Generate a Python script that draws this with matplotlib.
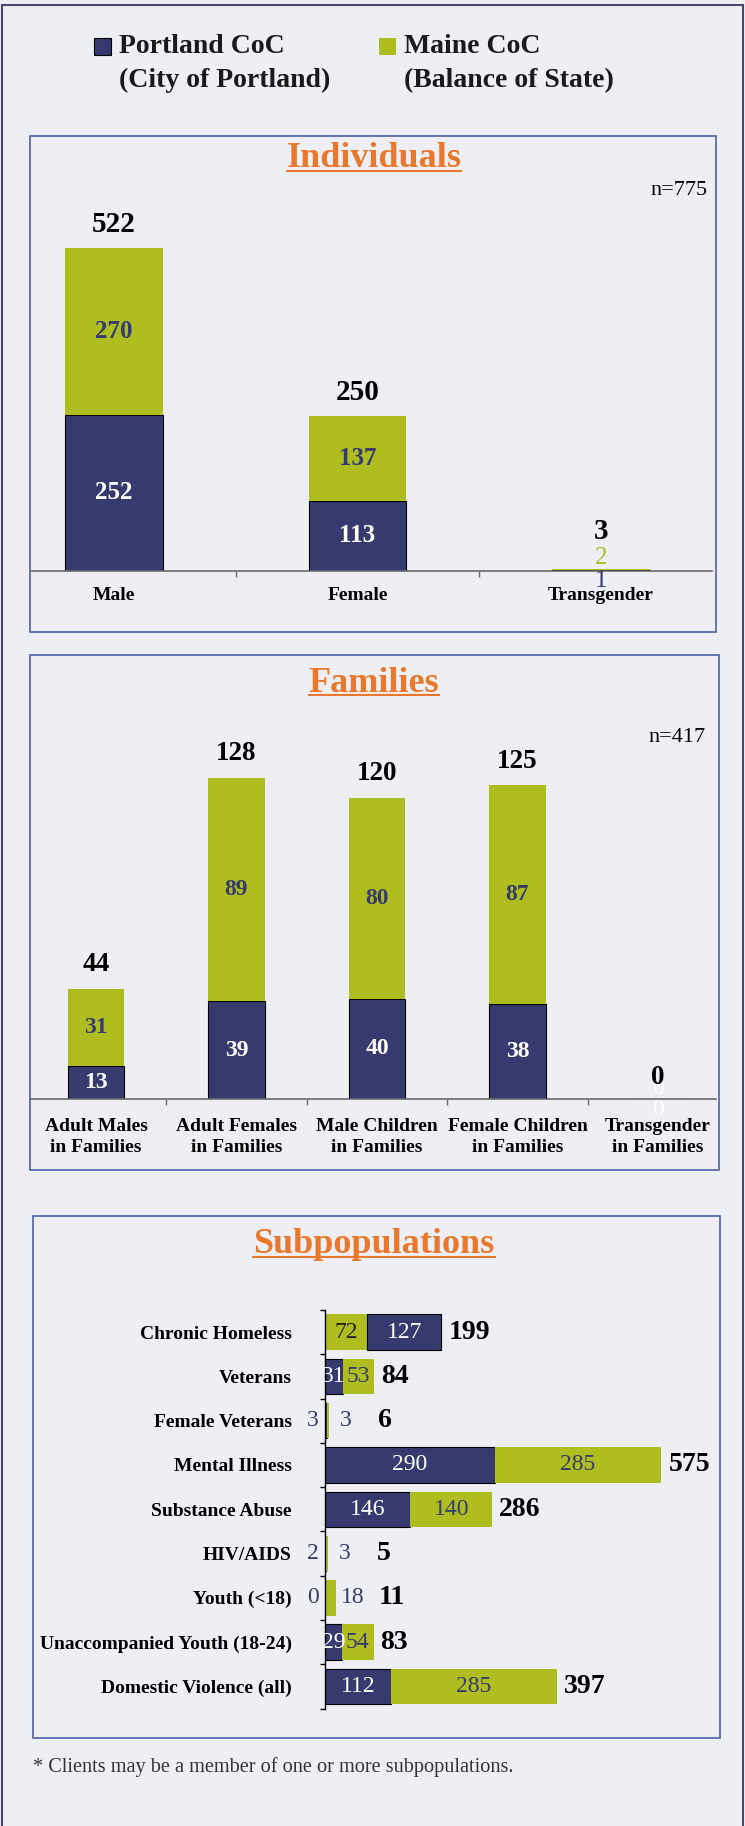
import matplotlib.pyplot as plt
from matplotlib.patches import Rectangle
from matplotlib.lines import Line2D

W, H = 745, 1826
BG = '#eeeff4'
NAVY = '#363a6e'
GREEN = '#afbd1f'
ORANGE = '#e9782c'
FRAME = '#4b4670'
BOX = '#4f5fa8'

series_names = ['Portland CoC\n(City of Portland)', 'Maine CoC\n(Balance of State)']

ind_cats = ['Male', 'Female', 'Transgender']
ind_portland = [252, 113, 1]
ind_maine = [270, 137, 2]
ind_total = [522, 250, 3]

fam_cats = ['Adult Males\nin Families', 'Adult Females\nin Families',
            'Male Children\nin Families', 'Female Children\nin Families',
            'Transgender\nin Families']
fam_portland = [13, 39, 40, 38, 0]
fam_maine = [31, 89, 80, 87, 0]
fam_total = [44, 128, 120, 125, 0]

sub_cats = ['Chronic Homeless', 'Veterans', 'Female Veterans', 'Mental Illness',
            'Substance Abuse', 'HIV/AIDS', 'Youth (<18)',
            'Unaccompanied Youth (18-24)', 'Domestic Violence (all)']
sub_portland = [127, 31, 3, 290, 146, 2, 0, 29, 112]
sub_maine = [72, 53, 3, 285, 140, 3, 18, 54, 285]
sub_total = [199, 84, 6, 575, 286, 5, 11, 83, 397]
sub_maine_first = [True, False, False, False, False, False, False, False, False]

plt.rcParams['font.family'] = 'Liberation Serif'

fig = plt.figure(figsize=(W / 100, H / 100), dpi=100, facecolor=BG)


def fbox(x0, y0, x1, y1):
    # pixel box (top-left origin) -> figure fraction rect
    return [x0 / W, 1 - y1 / H, (x1 - x0) / W, (y1 - y0) / H]


def frame(x0, y0, x1, y1, color, lw):
    l, b, w, h = fbox(x0, y0, x1, y1)
    fig.add_artist(Rectangle((l, b), w, h, transform=fig.transFigure,
                             fill=False, ec=color, lw=lw))


def title(text, xc, base):
    t = fig.text(xc / W, 1 - base / H, text, ha='center', va='baseline',
                 fontsize=26, fontweight='bold', color=ORANGE)
    fig.canvas.draw()
    bb = t.get_window_extent(renderer=fig.canvas.get_renderer())
    y = 1 - (base + 3.5) / H
    fig.add_artist(Line2D([bb.x0 / W, bb.x1 / W], [y, y], color=ORANGE, lw=1.5))


# outer frame
frame(2, 5, 743, H + 20, FRAME, 1.5)

# legend
for (x0, color, ec), name in zip([(94, NAVY, 'black'), (379, GREEN, 'none')], series_names):
    l, b, w, h = fbox(x0, 38, x0 + 17, 55)
    fig.add_artist(Rectangle((l, b), w, h, transform=fig.transFigure,
                             fc=color, ec=ec, lw=0.8))
    top, bottom = name.split('\n')
    fig.text((x0 + 25) / W, 1 - 53 / H, top, ha='left', va='baseline',
             fontsize=20, fontweight='bold', color='#1a1a1a')
    fig.text((x0 + 25) / W, 1 - 87 / H, bottom, ha='left', va='baseline',
             fontsize=20, fontweight='bold', color='#1a1a1a')


def columns(rect, xlim, ppu, width, cats, portland, maine, total,
            seg_fs, tot_fs, tick_fs, tick_pad):
    ax = fig.add_axes(rect)
    ax.patch.set_visible(False)
    x = list(range(len(cats)))
    ax.bar(x, portland, width, color=NAVY, edgecolor='black', lw=0.8)
    ax.bar(x, maine, width, bottom=portland, color=GREEN, lw=0)
    hpx = rect[3] * H
    ax.set_xlim(*xlim)
    ax.set_ylim(0, hpx / ppu)
    for i in x:
        p, m, t = portland[i], maine[i], total[i]
        top = p + m
        if top * ppu > 20:
            ax.text(i, p / 2, str(p), ha='center', va='center', color='white',
                    fontsize=seg_fs, fontweight='bold')
            ax.text(i, p + m / 2, str(m), ha='center', va='center', color=NAVY,
                    fontsize=seg_fs, fontweight='bold')
            off = 24
        else:
            ax.annotate(str(p), (i, 0), xytext=(0, -10), textcoords='offset pixels',
                        ha='center', va='center', fontsize=seg_fs,
                        color=NAVY if p else 'white')
            ax.annotate(str(m), (i, top), xytext=(0, 11), textcoords='offset pixels',
                        ha='center', va='center', fontsize=seg_fs,
                        color=GREEN if m else 'white')
            off = 37 if m else 22
        ax.annotate(str(t), (i, top), xytext=(0, off), textcoords='offset pixels',
                    ha='center', va='center', fontsize=tot_fs, fontweight='bold',
                    color='black')
    for s in ['left', 'right', 'top']:
        ax.spines[s].set_visible(False)
    ax.spines['bottom'].set_color('#6a6a6a')
    ax.spines['bottom'].set_linewidth(1.2)
    ax.set_yticks([])
    ax.set_xticks(x, cats)
    ax.set_xticks([i + 0.5 for i in x[:-1]], minor=True)
    ax.tick_params(axis='x', which='major', length=0, pad=tick_pad)
    ax.tick_params(axis='x', which='minor', length=4, color='#6a6a6a', width=1)
    for lab in ax.get_xticklabels():
        lab.set_fontsize(tick_fs)
        lab.set_fontweight('bold')
        lab.set_linespacing(1.26)
    return ax


# Individuals
frame(30, 136, 716, 632, BOX, 1.2)
title('Individuals', 374, 167)
fig.text(708 / W, 1 - 195 / H, 'n=775', ha='right', va='baseline', fontsize=16)
columns(fbox(32, 150, 712, 570.7), (-0.337, 2.456), 0.618, 0.40,
        ind_cats, ind_portland, ind_maine, ind_total, 18, 21, 14, 12)

# Families
frame(29.5, 655, 719, 1170, BOX, 1.2)
title('Families', 374, 691.5)
fig.text(706 / W, 1 - 741.5 / H, 'n=417', ha='right', va='baseline', fontsize=16)
columns(fbox(29.5, 700, 716, 1099), (-0.473, 4.413), 2.51, 0.405,
        fam_cats, fam_portland, fam_maine, fam_total, 17, 19.5, 14, 14)

# Subpopulations
frame(33, 1216, 720, 1738, BOX, 1.2)
title('Subpopulations', 374, 1253)
ax = fig.add_axes(fbox(325, 1310, 700, 1708.5))
ax.patch.set_visible(False)
ppu = 0.585
ax.set_xlim(0, 375 / ppu)
ax.set_ylim(len(sub_cats) - 0.5, -0.5)
y = list(range(len(sub_cats)))
first = [m if f else p for p, m, f in zip(sub_portland, sub_maine, sub_maine_first)]
second = [p if f else m for p, m, f in zip(sub_portland, sub_maine, sub_maine_first)]
c1 = [GREEN if f else NAVY for f in sub_maine_first]
c2 = [NAVY if f else GREEN for f in sub_maine_first]
ax.barh(y, first, 0.8, color=c1, edgecolor=['none' if c == GREEN else 'black' for c in c1], lw=0.8)
ax.barh(y, second, 0.8, left=first, color=c2, edgecolor=['none' if c == GREEN else 'black' for c in c2], lw=0.8)
for i in y:
    p, m, t = sub_portland[i], sub_maine[i], sub_total[i]
    end = p + m
    if end < 25:
        ax.annotate(str(p), (0, i), xytext=(-12, 0), textcoords='offset pixels',
                    ha='center', va='center', fontsize=17, color=NAVY)
        ax.annotate(str(m), (end, i), xytext=(17, 0), textcoords='offset pixels',
                    ha='center', va='center', fontsize=17, color=NAVY)
        ax.annotate(str(t), (end, i), xytext=(56, 0), textcoords='offset pixels',
                    ha='center', va='center', fontsize=20, fontweight='bold')
    else:
        for left, v, c in [(0, first[i], c1[i]), (first[i], second[i], c2[i])]:
            if c == NAVY:
                tc = 'white'
            else:
                tc = '#222222' if sub_maine_first[i] else NAVY
            ax.text(left + v / 2, i, str(v), ha='center', va='center',
                    fontsize=17, color=tc)
        ax.annotate(str(t), (end, i), xytext=(7, 0), textcoords='offset pixels',
                    ha='left', va='center', fontsize=20, fontweight='bold')
for s in ['right', 'top', 'bottom']:
    ax.spines[s].set_visible(False)
ax.spines['left'].set_color('black')
ax.spines['left'].set_linewidth(1.0)
ax.set_xticks([])
ax.set_yticks(y, sub_cats)
ax.set_yticks([i - 0.5 for i in range(len(sub_cats) + 1)], minor=True)
ax.tick_params(axis='y', which='major', length=0, pad=24)
ax.tick_params(axis='y', which='minor', length=3.5, color='black', width=1)
for lab in ax.get_yticklabels():
    lab.set_fontsize(14)
    lab.set_fontweight('bold')

fig.text(33 / W, 1 - 1771.5 / H, '* Clients may be a member of one or more subpopulations.',
         ha='left', va='baseline', fontsize=14.6, color='#333333')

fig.savefig('out.png', dpi=100, facecolor=BG)
